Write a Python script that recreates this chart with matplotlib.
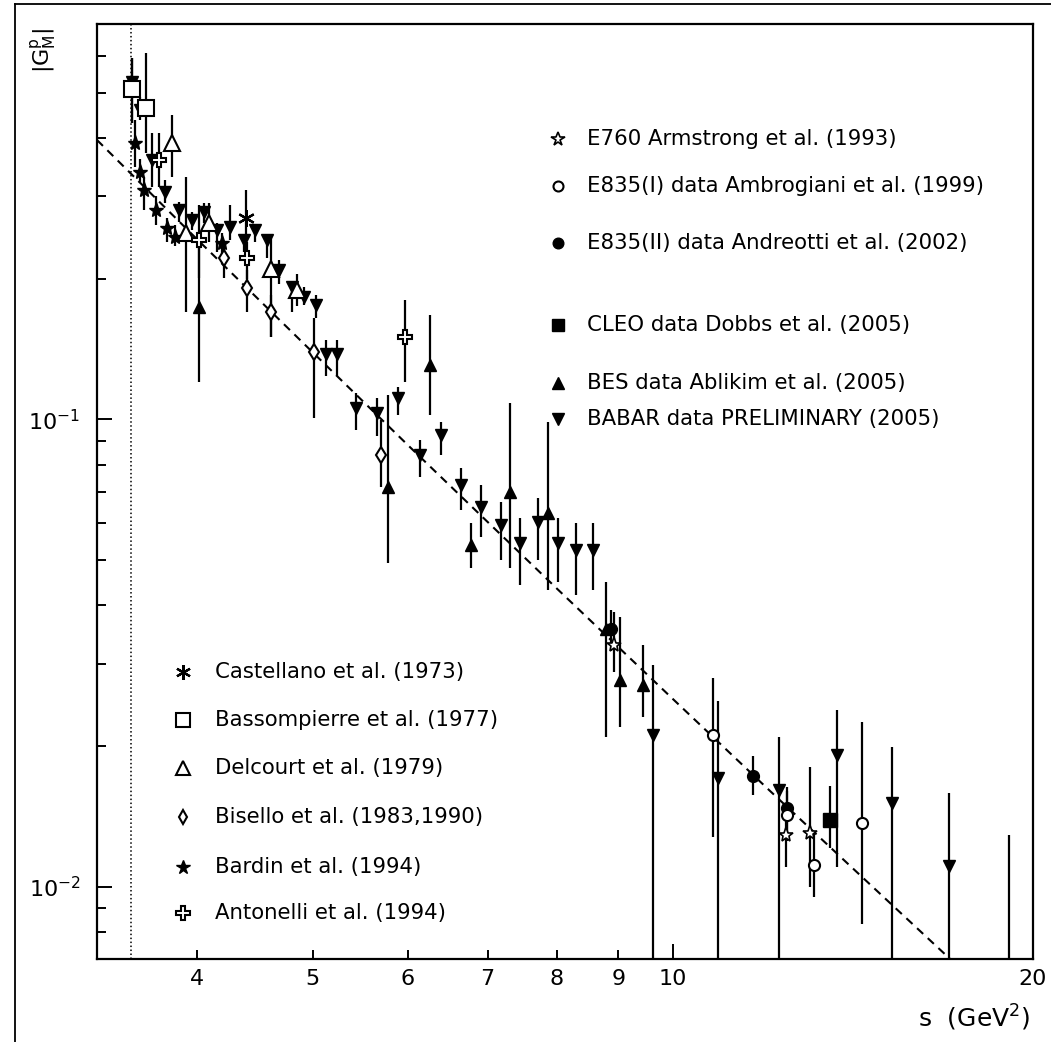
import matplotlib
matplotlib.use('Agg')
import matplotlib.pyplot as plt
import numpy as np
from matplotlib.lines import Line2D
from matplotlib.ticker import NullFormatter

# ---- data (s in GeV^2, |G_M^p|, error-bar low / high) ----
babar_s = [3.531, 3.588, 3.670, 3.765, 3.863, 3.964, 4.052, 4.159, 4.261, 4.378,
           4.477, 4.579, 4.683, 4.806, 4.914, 5.027, 5.129, 5.241, 5.429, 5.660,
           5.894, 6.145, 6.396, 6.645, 6.907, 7.180, 7.452, 7.716, 8.009, 8.294,
           8.582, 9.628, 10.91, 12.27, 13.72, 15.24, 17.03, 19.11]
babar_g = [0.527, 0.459, 0.359, 0.307, 0.280, 0.267, 0.278, 0.254, 0.258, 0.242,
           0.254, 0.242, 0.209, 0.192, 0.183, 0.176, 0.138, 0.138, 0.1056, 0.103,
           0.111, 0.0839, 0.0926, 0.0724, 0.065, 0.0594, 0.0543, 0.0604, 0.0543, 0.0525,
           0.0525, 0.0211, 0.01705, 0.0161, 0.0191, 0.0151, 0.01107, 0.005]
babar_lo = [0.431, 0.437, 0.314, 0.290, 0.264, 0.254, 0.263, 0.228, 0.242, 0.228,
            0.240, 0.221, 0.195, 0.170, 0.176, 0.165, 0.124, 0.124, 0.095, 0.092,
            0.102, 0.0754, 0.0839, 0.0639, 0.0561, 0.050, 0.0442, 0.050, 0.0449, 0.0421,
            0.0431, 0.001, 0.001, 0.001, 0.0110, 0.001, 0.001, 0.001]
babar_hi = [0.593, 0.490, 0.410, 0.325, 0.292, 0.278, 0.290, 0.263, 0.287, 0.248,
            0.258, 0.248, 0.219, 0.198, 0.192, 0.1845, 0.148, 0.148, 0.114, 0.111,
            0.117, 0.0903, 0.0988, 0.0787, 0.0724, 0.0666, 0.0615, 0.0679, 0.0615, 0.060,
            0.060, 0.0298, 0.0249, 0.0209, 0.0239, 0.0199, 0.0159, 0.0129]

bes_s = [4.015, 5.777, 6.265, 6.776, 7.310, 7.856, 8.788, 9.029, 9.443]
bes_g = [0.1741, 0.0718, 0.1307, 0.0538, 0.070, 0.0629, 0.0355, 0.0277, 0.0270]
bes_lo = [0.120, 0.0493, 0.1021, 0.0481, 0.0481, 0.0431, 0.0209, 0.022, 0.0231]
bes_hi = [0.242, 0.1127, 0.1671, 0.060, 0.1084, 0.0988, 0.0449, 0.0378, 0.0329]

bardin_s = [3.553, 3.588, 3.611, 3.698, 3.773, 3.838, 4.200]
bardin_g = [0.390, 0.339, 0.309, 0.280, 0.257, 0.246, 0.238]
bardin_lo = [0.347, 0.320, 0.280, 0.260, 0.240, 0.235, 0.225]
bardin_hi = [0.437, 0.360, 0.330, 0.300, 0.270, 0.260, 0.250]

delcourt_s = [3.809, 3.913, 4.093, 4.609, 4.853]
delcourt_g = [0.390, 0.250, 0.263, 0.210, 0.189]
delcourt_lo = [0.330, 0.170, 0.240, 0.150, 0.175]
delcourt_hi = [0.448, 0.330, 0.290, 0.248, 0.205]

antonelli_s = [3.717, 4.015, 4.407, 5.966]
antonelli_g = [0.359, 0.242, 0.221, 0.150]
antonelli_lo = [0.314, 0.2006, 0.200, 0.1203]
antonelli_hi = [0.410, 0.2874, 0.240, 0.180]

castellano_s = [4.40]
castellano_g = [0.269]
castellano_lo = [0.230]
castellano_hi = [0.309]

bisello_s = [4.213, 4.407, 4.609, 5.010, 5.704]
bisello_g = [0.221, 0.191, 0.170, 0.1395, 0.0839]
bisello_lo = [0.2006, 0.1697, 0.150, 0.1006, 0.0717]
bisello_hi = [0.234, 0.209, 0.1845, 0.165, 0.0997]

bassompierre_s = [3.531, 3.628]
bassompierre_g = [0.508, 0.464]
bassompierre_lo = [0.431, 0.371]
bassompierre_hi = [0.593, 0.608]

e835b_s = [8.874, 11.66, 12.46]
e835b_g = [0.0355, 0.01725, 0.0147]
e835b_lo = [0.032, 0.0157, 0.0130]
e835b_hi = [0.039, 0.019, 0.0163]

e835a_s = [10.80, 12.46, 13.13, 14.38]
e835a_g = [0.0211, 0.0142, 0.0111, 0.0137]
e835a_lo = [0.0128, 0.0125, 0.0095, 0.0083]
e835a_hi = [0.0280, 0.016, 0.0130, 0.0225]

e760_s = [8.92, 12.42, 13.03]
e760_g = [0.0329, 0.0129, 0.0130]
e760_lo = [0.0288, 0.0110, 0.0100]
e760_hi = [0.0387, 0.015, 0.0180]

cleo_s = [13.52]
cleo_g = [0.0139]
cleo_lo = [0.0121]
cleo_hi = [0.0164]

# fitted curve
fit_s = [3.3, 4, 5, 6, 7, 8, 10, 12, 14, 17, 17.6]
fit_g = [0.396, 0.243, 0.139, 0.0882, 0.0603, 0.0434, 0.0252, 0.0162, 0.0112, 0.00705, 0.0065]

s_threshold = 3.52

W, H = 1051, 1042
fig = plt.figure(figsize=(W / 100, H / 100), dpi=100)
ax = fig.add_axes([97 / W, 1 - 959 / H, 936 / W, (959 - 24.4) / H])

ax.set_xscale('log')
ax.set_yscale('log')
ax.set_xlim(3.3, 20)
ax.set_ylim(0.007, 0.7)

ax.axvline(s_threshold, color='black', lw=1.1, ls=(0, (1, 1.6)), zorder=1)
ax.plot(fit_s, fit_g, color='black', lw=1.5, ls=(0, (4, 3)), zorder=1)

# (marker, size, filled, mew)
styles = {
    'babar': ('v', 9, True, 1.0),
    'bes': ('^', 9, True, 1.0),
    'bardin': ('*', 11, True, 1.0),
    'delcourt': ('^', 11, False, 1.5),
    'antonelli': ('P', 10.5, False, 1.5),
    'castellano': ((6, 2, 0), 12, False, 1.6),
    'bisello': ('d', 8, False, 1.5),
    'bassompierre': ('s', 11.5, False, 1.5),
    'e835b': ('o', 8.5, True, 1.0),
    'e835a': ('o', 8, False, 1.5),
    'e760': ('*', 11, False, 1.2),
    'cleo': ('s', 9.5, True, 1.0),
}


def draw(key, s, g, lo, hi):
    m, ms, filled, mew = styles[key]
    s = np.array(s)
    g = np.array(g)
    err = [g - np.array(lo), np.array(hi) - g]
    ax.errorbar(s, g, yerr=err, fmt='none', ecolor='black', elinewidth=1.6,
                capsize=0, zorder=2)
    ax.plot(s, g, ls='none', marker=m, ms=ms, mew=mew, mec='black',
            mfc='black' if filled else 'white', zorder=3)


draw('babar', babar_s, babar_g, babar_lo, babar_hi)
draw('bes', bes_s, bes_g, bes_lo, bes_hi)
draw('bardin', bardin_s, bardin_g, bardin_lo, bardin_hi)
draw('delcourt', delcourt_s, delcourt_g, delcourt_lo, delcourt_hi)
draw('antonelli', antonelli_s, antonelli_g, antonelli_lo, antonelli_hi)
draw('castellano', castellano_s, castellano_g, castellano_lo, castellano_hi)
draw('bisello', bisello_s, bisello_g, bisello_lo, bisello_hi)
draw('bassompierre', bassompierre_s, bassompierre_g, bassompierre_lo, bassompierre_hi)
draw('e835b', e835b_s, e835b_g, e835b_lo, e835b_hi)
draw('e835a', e835a_s, e835a_g, e835a_lo, e835a_hi)
draw('e760', e760_s, e760_g, e760_lo, e760_hi)
draw('cleo', cleo_s, cleo_g, cleo_lo, cleo_hi)

# hand-placed legends (axes fractions)
right_keys = ['e760', 'e835a', 'e835b', 'cleo', 'bes', 'babar']
right_labels = ['E760 Armstrong et al. (1993)',
                'E835(I) data Ambrogiani et al. (1999)',
                'E835(II) data Andreotti et al. (2002)',
                'CLEO data Dobbs et al. (2005)',
                'BES data Ablikim et al. (2005)',
                'BABAR data PRELIMINARY (2005)']
right_y = [0.8774, 0.8271, 0.7661, 0.6784, 0.6163, 0.5778]

left_keys = ['castellano', 'bassompierre', 'delcourt', 'bisello', 'bardin', 'antonelli']
left_labels = ['Castellano et al. (1973)',
               'Bassompierre et al. (1977)',
               'Delcourt et al. (1979)',
               'Bisello et al. (1983,1990)',
               'Bardin et al. (1994)',
               'Antonelli et al. (1994)']
left_y = [0.3071, 0.2557, 0.2044, 0.1519, 0.0984, 0.0492]


def legend_column(keys, labels, ys, xm, xt):
    for key, lab, y in zip(keys, labels, ys):
        m, ms, filled, mew = styles[key]
        ax.plot([xm], [y], transform=ax.transAxes, ls='none', marker=m,
                ms=ms * 0.9, mew=mew, mec='black',
                mfc='black' if filled else 'white', clip_on=False, zorder=4)
        ax.text(xt, y, lab, transform=ax.transAxes, ha='left', va='center',
                fontsize=15.3)


legend_column(right_keys, right_labels, right_y, 0.4925, 0.5235)
legend_column(left_keys, left_labels, left_y, 0.0919, 0.1261)

# axes styling
for sp in ax.spines.values():
    sp.set_linewidth(1.6)
ax.set_xticks([10, 20], labels=['10', '20'])
ax.set_xticks([4, 5, 6, 7, 8, 9], labels=['4', '5', '6', '7', '8', '9'], minor=True)
ax.yaxis.set_minor_formatter(NullFormatter())
ax.tick_params(which='both', direction='in', top=False, right=False,
               width=1.4, labelsize=16)
ax.tick_params(which='major', length=11)
ax.tick_params(which='minor', length=6.5)
ax.tick_params(axis='x', which='both', pad=7)
ax.tick_params(axis='y', which='both', pad=12)

fig.text(44 / W, 1 - 50 / H, r'$\mathregular{|G^{p}_{M}|}$', rotation=90,
         fontsize=16, ha='center', va='center')
fig.text(1030 / W, 1 - 1018 / H, r's  (GeV$\mathregular{^{2}}$)',
         ha='right', va='center', fontsize=18)

# outer frame (left and top edges visible)
fig.add_artist(Line2D([15 / W, 15 / W], [0, 1 - 4 / H], color='black', lw=1.3))
fig.add_artist(Line2D([15 / W, 1], [1 - 4 / H, 1 - 4 / H], color='black', lw=1.3))

fig.savefig('out.png', dpi=100)
